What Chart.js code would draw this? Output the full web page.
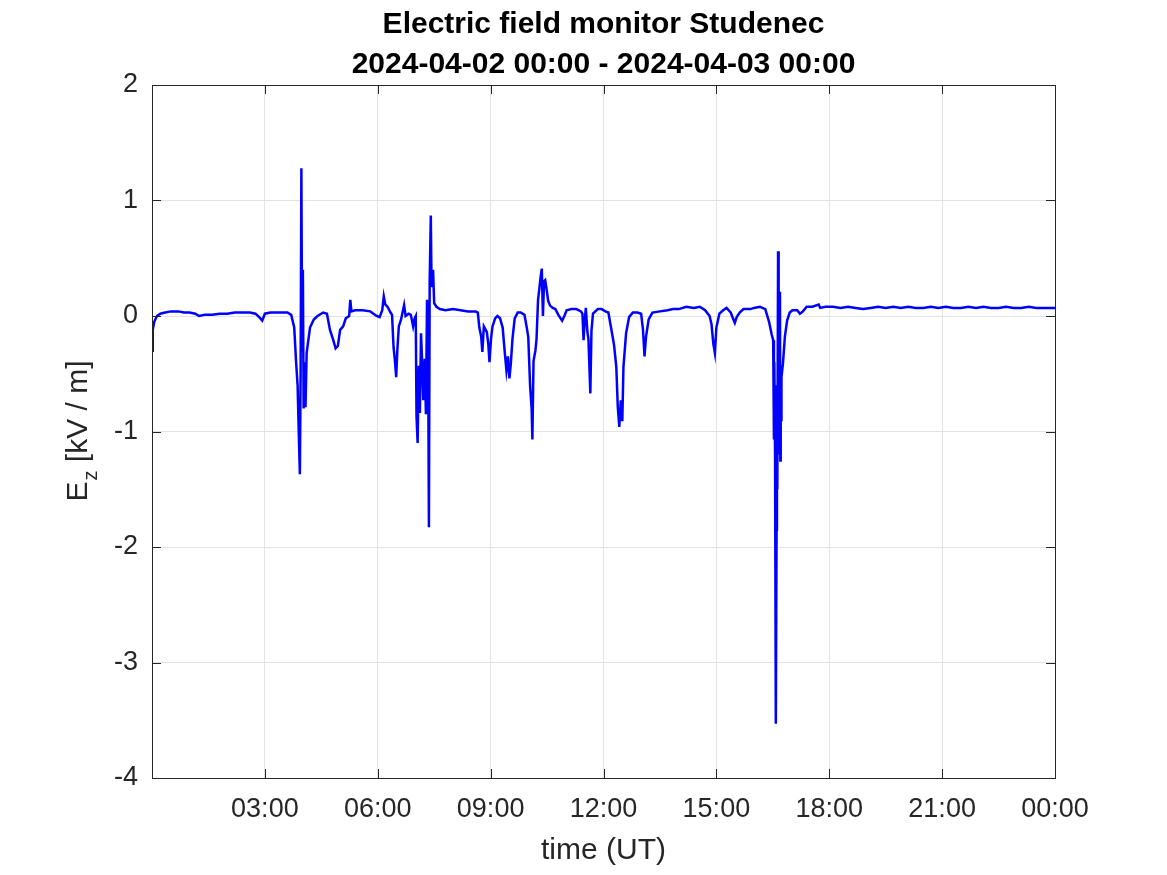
<!DOCTYPE html>
<html>
<head>
<meta charset="utf-8">
<title>Electric field monitor Studenec</title>
<script src="https://cdn.jsdelivr.net/npm/chart.js@4.4.1/dist/chart.umd.min.js"></script>
<style>
  html, body { margin: 0; padding: 0; background: #fff; }
  #wrap { width: 1167px; height: 875px; }
</style>
</head>
<body>
<div id="wrap"><canvas id="efm" width="1167" height="875"></canvas></div>
<script>
// time in hours since 2024-04-02 00:00 UT, field in kV/m
const times = [
  0.00, 0.02, 0.06, 0.13, 0.22, 0.35, 0.50, 0.70, 0.85, 1.00, 1.15, 1.25, 1.40, 1.60, 1.80,
  2.00, 2.20, 2.40, 2.60, 2.75, 2.85, 2.93, 3.00, 3.15, 3.40, 3.60, 3.70, 3.78, 3.83, 3.87,
  3.90, 3.93, 3.95, 3.97, 3.99, 4.01, 4.03, 4.04, 4.05, 4.06, 4.07, 4.08, 4.11, 4.20, 4.30, 4.40, 4.55, 4.65,
  4.73, 4.81, 4.88, 4.94, 5.00, 5.08, 5.15, 5.24, 5.27, 5.30, 5.40, 5.60, 5.80, 5.97, 6.05,
  6.12, 6.16, 6.20, 6.26, 6.34, 6.38, 6.42, 6.46, 6.49, 6.52, 6.56, 6.62, 6.70, 6.74, 6.82,
  6.88, 6.94, 6.98, 7.01, 7.03, 7.06, 7.09, 7.12, 7.15, 7.18, 7.21, 7.25, 7.28, 7.31, 7.34,
  7.36, 7.38, 7.41, 7.43, 7.47, 7.50, 7.56, 7.65, 7.80, 8.00, 8.20, 8.40, 8.60, 8.66, 8.70,
  8.75, 8.78, 8.82, 8.87, 8.90, 8.94, 8.97, 9.01, 9.05, 9.12, 9.18, 9.25, 9.32, 9.38, 9.42,
  9.46, 9.50, 9.54, 9.58, 9.64, 9.72, 9.80, 9.90, 9.96, 10.00, 10.05, 10.09, 10.11, 10.14, 10.19,
  10.22, 10.26, 10.30, 10.33, 10.36, 10.39, 10.42, 10.45, 10.48, 10.53, 10.58, 10.65, 10.72, 10.80, 10.86,
  10.90, 10.96, 11.02, 11.15, 11.28, 11.40, 11.44, 11.47, 11.50, 11.53, 11.57, 11.60, 11.65, 11.68, 11.72,
  11.85, 11.95, 12.05, 12.13, 12.20, 12.28, 12.34, 12.38, 12.42, 12.46, 12.50, 12.53, 12.60, 12.68, 12.78,
  12.90, 13.00, 13.05, 13.09, 13.13, 13.20, 13.30, 13.50, 13.70, 13.85, 14.00, 14.20, 14.40, 14.56, 14.70,
  14.82, 14.87, 14.92, 14.96, 15.00, 15.08, 15.18, 15.27, 15.38, 15.44, 15.49, 15.54, 15.62, 15.72, 15.90,
  16.00, 16.16, 16.30, 16.40, 16.47, 16.51, 16.53, 16.54, 16.56, 16.58, 16.60, 16.61, 16.62, 16.64, 16.65,
  16.66, 16.67, 16.69, 16.70, 16.71, 16.72, 16.73,
  16.77, 16.82, 16.88, 16.95, 17.02, 17.15, 17.22, 17.30, 17.40, 17.55, 17.72, 17.76, 17.90, 18.10, 18.30,
  18.50, 18.70, 18.90, 19.10, 19.30, 19.50, 19.70, 19.90, 20.10, 20.30, 20.50, 20.70, 20.90, 21.10, 21.30,
  21.50, 21.70, 21.90, 22.10, 22.30, 22.50, 22.70, 22.90, 23.10, 23.30, 23.50, 23.70, 24.00
];
const ez = [
  -0.30, -0.12, -0.05, 0.00, 0.02, 0.03, 0.04, 0.04, 0.03, 0.03, 0.02, 0.00, 0.01, 0.01, 0.02,
  0.02, 0.03, 0.03, 0.03, 0.02, -0.01, -0.04, 0.02, 0.03, 0.03, 0.03, 0.01, -0.10, -0.40, -0.60,
  -1.00, -1.37, -0.50, 1.28, -0.30, 0.40, -0.80, -0.45, -0.75, -0.50, -0.40, -0.79, -0.32, -0.10, -0.03, 0.00, 0.03, 0.02,
  -0.12, -0.20, -0.28, -0.26, -0.12, -0.09, -0.02, 0.00, 0.14, 0.04, 0.05, 0.05, 0.04, 0.00, -0.01,
  0.05, 0.17, 0.10, 0.08, 0.03, 0.01, -0.27, -0.40, -0.53, -0.30, -0.09, -0.03, 0.095, 0.00, 0.02,
  0.01, -0.09, -0.02, 0.00, -0.87, -1.10, -0.43, -0.84, -0.15, -0.40, -0.73, -0.37, -0.85, 0.14, -0.37,
  -1.83, 0.29, 0.87, 0.25, 0.40, 0.11, 0.08, 0.06, 0.05, 0.06, 0.05, 0.04, 0.04, 0.03, -0.10,
  -0.18, -0.31, -0.09, -0.12, -0.14, -0.25, -0.40, -0.20, -0.09, -0.02, 0.00, -0.02, -0.10, -0.33, -0.47,
  -0.35, -0.54, -0.40, -0.20, -0.02, 0.03, 0.03, 0.01, -0.10, -0.18, -0.61, -0.80, -1.07, -0.39, -0.30,
  -0.20, 0.14, 0.25, 0.34, 0.41, 0.00, 0.30, 0.31, 0.25, 0.13, 0.09, 0.07, 0.06, 0.01, -0.02,
  -0.04, 0.00, 0.05, 0.06, 0.06, 0.04, 0.02, -0.21, -0.05, 0.07, -0.13, -0.20, -0.67, -0.13, 0.02,
  0.06, 0.06, 0.04, 0.03, -0.10, -0.25, -0.44, -0.79, -0.96, -0.73, -0.91, -0.44, -0.15, -0.01, 0.03,
  0.03, 0.02, -0.12, -0.35, -0.18, -0.03, 0.03, 0.04, 0.05, 0.06, 0.06, 0.08, 0.07, 0.08, 0.05,
  0.00, -0.07, -0.24, -0.32, -0.10, 0.02, 0.05, 0.07, 0.03, -0.02, -0.06, -0.01, 0.03, 0.06, 0.06,
  0.07, 0.08, 0.06, -0.05, -0.16, -0.21, -1.07, -0.40, -1.20, -3.53, -1.85, -0.60, -1.50, 0.56, -1.20,
  -0.45, -1.10, 0.21, -1.25, -0.55, -0.90, -0.53,
  -0.41, -0.18, -0.04, 0.03, 0.05, 0.05, 0.02, 0.04, 0.08, 0.08, 0.10, 0.07, 0.08, 0.08, 0.07,
  0.08, 0.07, 0.06, 0.07, 0.08, 0.07, 0.08, 0.07, 0.08, 0.07, 0.07, 0.08, 0.07, 0.08, 0.07,
  0.07, 0.08, 0.07, 0.08, 0.07, 0.07, 0.08, 0.07, 0.07, 0.08, 0.07, 0.07, 0.07
];
const xTicks = [3, 6, 9, 12, 15, 18, 21, 24];
const xTickLabels = ['03:00', '06:00', '09:00', '12:00', '15:00', '18:00', '21:00', '00:00'];
const yTicks = [-4, -3, -2, -1, 0, 1, 2];

const FONT = "'Liberation Sans', Arial, Helvetica, sans-serif";
const AXIS = '#262626';

// MATLAB-like box with inward ticks, plus the E_z label with its subscript
const matlabAxes = {
  id: 'matlabAxes',
  afterDatasetsDraw(chart) {
    const { ctx, chartArea: a, scales: { x, y } } = chart;
    const len = 9;
    ctx.save();
    ctx.strokeStyle = AXIS;
    ctx.lineWidth = 1;
    ctx.beginPath();
    xTicks.forEach(t => {
      const px = Math.round(x.getPixelForValue(t)) + 0.5;
      ctx.moveTo(px, a.bottom); ctx.lineTo(px, a.bottom - len);
      ctx.moveTo(px, a.top); ctx.lineTo(px, a.top + len);
    });
    yTicks.forEach(v => {
      const py = Math.round(y.getPixelForValue(v)) + 0.5;
      ctx.moveTo(a.left, py); ctx.lineTo(a.left + len, py);
      ctx.moveTo(a.right, py); ctx.lineTo(a.right - len, py);
    });
    ctx.stroke();
    ctx.strokeRect(Math.round(a.left) + 0.5, Math.round(a.top) + 0.5,
      Math.round(a.right - a.left), Math.round(a.bottom - a.top));

    // y label: E_z [kV / m]
    ctx.fillStyle = AXIS;
    ctx.translate(87, (a.top + a.bottom) / 2);
    ctx.rotate(-Math.PI / 2);
    ctx.textBaseline = 'alphabetic';
    const e = 'E', rest = ' [kV / m]';
    ctx.font = '20px ' + FONT;
    const wz = ctx.measureText('z').width;
    ctx.font = '30px ' + FONT;
    const we = ctx.measureText(e).width, wr = ctx.measureText(rest).width;
    const sx = -(we + wz + wr) / 2;
    ctx.fillText(e, sx, 0);
    ctx.fillText(rest, sx + we + wz + 1, 0);
    ctx.font = '20px ' + FONT;
    ctx.fillText('z', sx + we + 1, 10);
    ctx.restore();
  }
};

new Chart(document.getElementById('efm'), {
  type: 'line',
  data: {
    datasets: [{
      label: 'Ez',
      data: times.map((t, i) => ({ x: t, y: ez[i] })),
      borderColor: '#0000ff',
      borderWidth: 2.5,
      pointRadius: 0,
      tension: 0,
      fill: false
    }]
  },
  options: {
    responsive: false,
    animation: false,
    layout: { padding: { left: 0, right: 112, top: 0, bottom: 0 } },
    plugins: {
      legend: { display: false },
      tooltip: { enabled: false },
      title: {
        display: true,
        fullSize: false,
        text: ['Electric field monitor Studenec', '2024-04-02 00:00 - 2024-04-03 00:00'],
        color: '#000',
        font: { family: FONT, size: 30, weight: 'bold', lineHeight: 40 / 30 },
        padding: { top: 5, bottom: 0 }
      }
    },
    scales: {
      x: {
        type: 'linear',
        min: 0,
        max: 24,
        afterFit(s) { s.height = 97; },
        afterBuildTicks(s) { s.ticks = [0].concat(xTicks).map(v => ({ value: v })); },
        ticks: {
          color: AXIS,
          font: { family: FONT, size: 27 },
          padding: 15,
          maxRotation: 0,
          autoSkip: false,
          callback: v => { const i = xTicks.indexOf(v); return i < 0 ? '' : xTickLabels[i]; }
        },
        grid: { color: '#e3e3e3', drawTicks: false },
        border: { display: false },
        title: {
          display: true,
          text: 'time (UT)',
          color: AXIS,
          font: { family: FONT, size: 30 },
          padding: { top: 0, bottom: 6 }
        }
      },
      y: {
        min: -4,
        max: 2,
        afterFit(s) { s.width = 152; },
        afterBuildTicks(s) { s.ticks = yTicks.map(v => ({ value: v })); },
        ticks: {
          color: AXIS,
          font: { family: FONT, size: 27 },
          padding: 14
        },
        grid: { color: '#e3e3e3', drawTicks: false },
        border: { display: false }
      }
    }
  },
  plugins: [matlabAxes]
});
</script>
</body>
</html>
